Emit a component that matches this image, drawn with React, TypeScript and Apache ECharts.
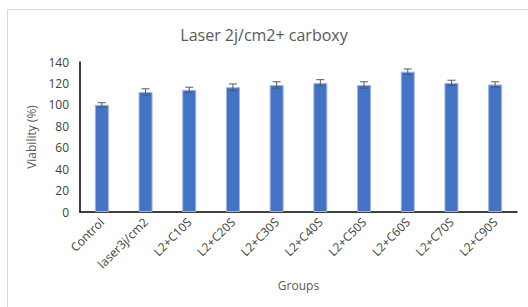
import React, { useEffect, useRef } from "react";
import * as echarts from "echarts";

const categories = ["Control", "laser3j/cm2", "L2+C10S", "L2+C20S", "L2+C30S", "L2+C40S", "L2+C50S", "L2+C60S", "L2+C70S", "L2+C90S"];
const viability = [100, 112, 114, 116.5, 118.5, 120.5, 118.5, 131, 120.5, 119];
const errors = [2, 3, 2.5, 3, 3, 3, 3, 2.5, 2.5, 2.5];
const yTicks = { min: 0, max: 140, interval: 20 };

export default function App() {
  const ref = useRef<HTMLDivElement>(null);
  useEffect(() => {
    const chart = echarts.init(ref.current!, null, { renderer: "svg" });
    const font = "'Open Sans', 'Liberation Sans', sans-serif";
    chart.setOption({
      animation: false,
      backgroundColor: "#ffffff",
      graphic: [
        {
          type: "rect",
          shape: { x: 7.5, y: 9.5, width: 530, height: 310 },
          style: { fill: "none", stroke: "#d9d9d9", lineWidth: 1 },
          silent: true,
          z: -10,
        },
      ],
      title: {
        text: "Laser 2j/cm2+ carboxy",
        left: "center",
        top: 22,
        textStyle: { fontFamily: font, fontSize: 16, fontWeight: "normal", color: "#595959" },
      },
      grid: { left: 80, right: 11, top: 62, bottom: 95 },
      xAxis: {
        type: "category",
        data: categories,
        name: "Groups",
        nameLocation: "middle",
        nameGap: 67,
        nameTextStyle: { fontFamily: font, fontSize: 12, color: "#595959" },
        axisLine: { lineStyle: { color: "#000000", width: 1.5 } },
        axisTick: { show: false },
        axisLabel: { rotate: 45, fontFamily: font, fontSize: 12, color: "#404040", margin: 8, interval: 0 },
      },
      yAxis: {
        type: "value",
        min: yTicks.min,
        max: yTicks.max,
        interval: yTicks.interval,
        name: "Viability (%)",
        nameLocation: "middle",
        nameGap: 42,
        nameTextStyle: { fontFamily: font, fontSize: 12, color: "#595959" },
        axisLine: { show: true, lineStyle: { color: "#000000", width: 1.5 } },
        axisTick: { show: false },
        splitLine: { show: false },
        axisLabel: { fontFamily: font, fontSize: 12, color: "#404040", margin: 11 },
      },
      series: [
        {
          type: "bar",
          data: viability,
          barWidth: "32%",
          itemStyle: { color: "#4472C4", borderColor: "#9DB5E0", borderWidth: 1 },
        },
        {
          type: "custom",
          data: viability.map((v, i) => [i, v - errors[i], v + errors[i]]),
          z: 10,
          renderItem: (params: any, api: any) => {
            const x = api.value(0);
            const lo = api.coord([x, api.value(1)]);
            const hi = api.coord([x, api.value(2)]);
            const hw = 4;
            const style = { stroke: "#595959", lineWidth: 1 };
            return {
              type: "group",
              children: [
                { type: "line", shape: { x1: lo[0], y1: lo[1], x2: hi[0], y2: hi[1] }, style },
                { type: "line", shape: { x1: lo[0] - hw, y1: lo[1], x2: lo[0] + hw, y2: lo[1] }, style },
                { type: "line", shape: { x1: hi[0] - hw, y1: hi[1], x2: hi[0] + hw, y2: hi[1] }, style },
              ],
            };
          },
        },
      ],
    });
    return () => chart.dispose();
  }, []);
  return <div ref={ref} style={{ position: "fixed", left: 0, top: 0, width: 528, height: 307 }} />;
}
